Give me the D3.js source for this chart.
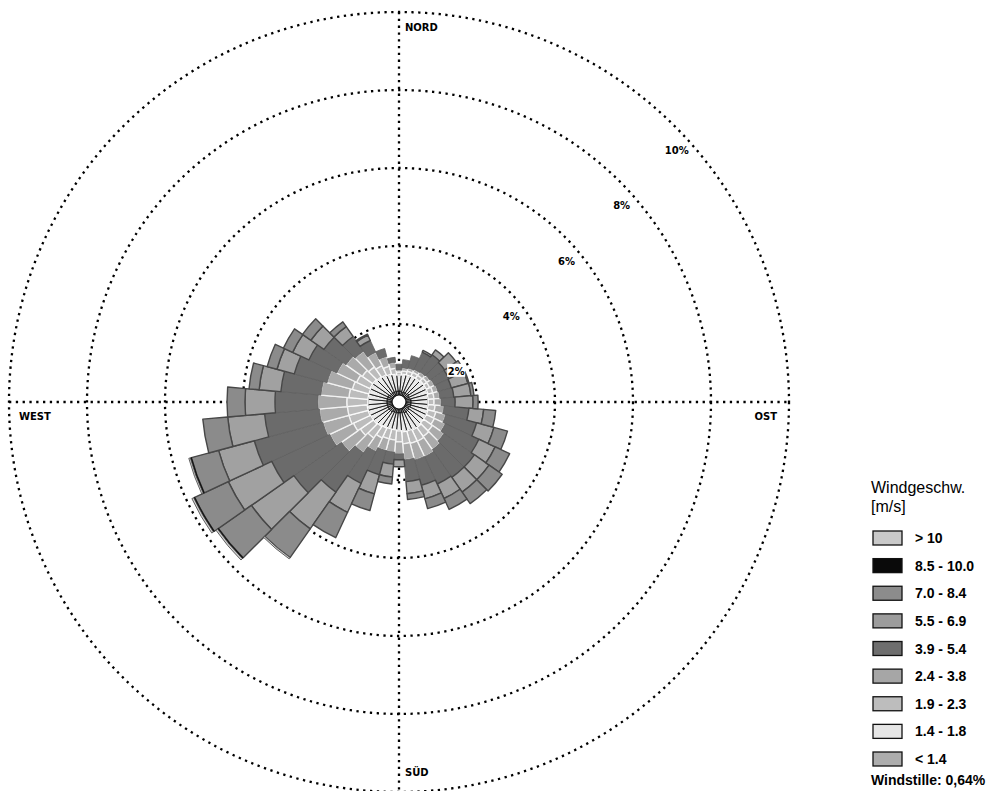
<!DOCTYPE html>
<html>
<head>
<meta charset="utf-8">
<script src="https://cdn.jsdelivr.net/npm/d3@7"></script>
<style>
  html, body { margin: 0; padding: 0; background: #fff; }
  svg { display: block; }
</style>
</head>
<body>
<svg id="chart" width="993" height="791"></svg>
<script>
// Wind directions (degrees, clockwise from north), one 10° sector each
const directions = d3.range(0, 360, 10);

// Speed classes, innermost first
const classKeys   = ["c1", "c2", "c3", "c4", "c5", "c6", "c7", "c8", "c9"];
const classLabels = ["< 1.4", "1.4 - 1.8", "1.9 - 2.3", "2.4 - 3.8", "3.9 - 5.4",
                     "5.5 - 6.9", "7.0 - 8.4", "8.5 - 10.0", "> 10"];

// Frequency (%) per direction for each speed class
const lt14    = [.28,.28,.26,.28,.28,.31,.28,.28,.31,.31,.31,.31,.28,.31,.31,.31,.28,.28,
                 .28,.28,.28,.28,.31,.31,.31,.31,.31,.31,.31,.31,.31,.28,.28,.28,.28,.28];
const s14_18  = [.41,.44,.46,.46,.46,.46,.49,.49,.44,.44,.44,.46,.49,.46,.49,.49,.49,.49,
                 .46,.44,.44,.46,.46,.49,.49,.51,.51,.49,.49,.49,.51,.54,.51,.49,.46,.44];
const s19_23  = [.08,.08,.10,.10,.10,.10,.10,.13,.15,.15,.18,.21,.23,.28,.28,.31,.33,.31,
                 .28,.26,.26,.28,.36,.41,.49,.51,.51,.54,.49,.44,.38,.33,.31,.26,.21,.15];
const s24_38  = [.05,.08,.08,.08,.10,.10,.13,.13,.15,.18,.23,.26,.31,.36,.41,.44,.44,.41,
                 .31,.31,.31,.38,.46,.59,.67,.69,.72,.74,.72,.67,.56,.51,.49,.38,.26,.15];
const s39_54  = [.15,.21,.33,.49,.54,.46,.41,.36,.36,.36,.64,.82,.95,.95,.87,.77,.67,.56,
                 .15,.31,.64,.90,1.23,1.49,1.64,1.82,1.41,1.10,1.03,.87,.79,.69,.46,.33,.21,.13];
const s55_69  = [0,0,0,.05,.15,.36,.44,.44,.44,.46,.38,.46,.46,.46,.46,.41,.36,.31,
                 .18,.33,.51,.82,1.15,1.33,1.23,.95,.95,.77,.56,.46,.46,.41,.31,.15,0,0];
const s70_84  = [0,0,0,0,0,0,0,.03,.08,.13,.31,.36,.41,.41,.36,.31,.26,.15,
                 0,.18,.44,.72,.90,1.03,.95,.72,.64,.46,.26,.26,.26,.26,.15,.03,0,0];
const s85_100 = [0,0,0,0,0,0,0,0,0,0,0,0,0,0,0,0,0,0,
                 0,0,0,0,0,.03,.03,.03,0,0,0,0,0,0,0,0,0,0];
const gt10    = [0,0,0,0,0,0,0,0,0,0,0,0,0,0,0,0,0,0,
                 0,0,0,0,.04,.05,.05,.04,0,0,0,0,0,0,0,0,0,0];

const seriesValues = [lt14, s14_18, s19_23, s24_38, s39_54, s55_69, s70_84, s85_100, gt10];

// Ring values and their labels
const ringValues = [2, 4, 6, 8, 10];
const ringLabels = ["2%", "4%", "6%", "8%", "10%"];
const cardinalLabels = ["NORD", "OST", "SÜD", "WEST"];
const legendTitle = ["Windgeschw.", "[m/s]"];
const calmText = "Windstille: 0,64%";

// Fill / outline per speed class (same order as classKeys)
const classFill   = ["#ababab", "#ebebeb", "#bcbcbc", "#aaaaaa", "#6b6b6b",
                     "#a1a1a1", "#8b8b8b", "#0d0d0d", "#cecece"];
const classStroke = ["#111", "#111", "#fafafa", "#f2f2f2", "#606060",
                     "#474747", "#474747", "#0d0d0d", "#404040"];
const classStrokeW = [0.9, 0.9, 1.3, 1.3, 0.8, 1.4, 1.4, 0.6, 0.8];
const legendFill  = ["#adadad", "#e6e6e6", "#bdbdbd", "#a6a6a6", "#6e6e6e",
                     "#9c9c9c", "#8c8c8c", "#0a0a0a", "#c9c9c9"];

// Table for d3.stack
const rows = directions.map((dir, i) => {
  const row = { dir };
  classKeys.forEach((k, j) => { row[k] = seriesValues[j][i]; });
  return row;
});

const svg = d3.select("#chart");
const cx = 399, cy = 402;
const r = d3.scaleLinear().domain([0, 10]).range([0, 390]);
const deg = Math.PI / 180;

const g = svg.append("g").attr("transform", `translate(${cx},${cy})`);

// Dotted percentage rings
const dotted = sel => sel
  .attr("stroke", "#000")
  .attr("stroke-width", 2.3)
  .attr("stroke-dasharray", "2.3 4.5");

g.selectAll("circle.ring").data(ringValues).join("circle")
  .attr("class", "ring")
  .attr("r", d => r(d))
  .attr("fill", "none")
  .call(dotted);

// Dotted N-S and W-E axes
const rMax = r(10);
g.append("line").attr("x1", 0).attr("y1", -rMax).attr("x2", 0).attr("y2", rMax).call(dotted);
g.append("line").attr("x1", -rMax).attr("y1", 0).attr("x2", rMax).attr("y2", 0).call(dotted);

// Stacked sectors
const stacked = d3.stack().keys(classKeys)(rows);
const arc = d3.arc()
  .innerRadius(d => r(d[0]))
  .outerRadius(d => r(d[1]))
  .startAngle(d => (d.data.dir - 5) * deg)
  .endAngle(d => (d.data.dir + 5) * deg);

stacked.forEach((layer, j) => {
  g.append("g").selectAll("path")
    .data(layer.filter(d => d[1] - d[0] > 0))
    .join("path")
    .attr("d", arc)
    .attr("fill", classFill[j])
    .attr("stroke", classStroke[j])
    .attr("stroke-width", classStrokeW[j])
    .attr("stroke-linejoin", "round");
});

// Calm centre
g.append("circle").attr("r", 7).attr("fill", "#fff").attr("stroke", "#111").attr("stroke-width", 1.2);

// Ring labels along the NE diagonal
const ringLab = g.selectAll("g.rlab").data(ringValues).join("g")
  .attr("class", "rlab")
  .attr("transform", d => `translate(${r(d) * Math.sin(45 * deg) + 2},${-r(d) * Math.cos(45 * deg) + 25})`);
ringLab.append("rect")
  .attr("x", (d, i) => i === 4 ? -12 : -9).attr("y", -8)
  .attr("width", (d, i) => i === 4 ? 24 : 18).attr("height", 13)
  .attr("fill", "#fff");
ringLab.append("text")
  .attr("text-anchor", "middle")
  .attr("y", 3)
  .attr("font-family", "DejaVu Sans, sans-serif")
  .attr("font-weight", "bold")
  .attr("font-size", 10)
  .attr("fill", "#000")
  .text((d, i) => ringLabels[i]);

// Cardinal labels
const cardPos = [
  { t: cardinalLabels[0], x: 6, y: -rMax + 19, a: "start" },
  { t: cardinalLabels[1], x: rMax - 12, y: 18, a: "end" },
  { t: cardinalLabels[2], x: 6, y: rMax - 16, a: "start" },
  { t: cardinalLabels[3], x: -rMax + 10, y: 18, a: "start" }
];
g.selectAll("text.card").data(cardPos).join("text")
  .attr("class", "card")
  .attr("x", d => d.x).attr("y", d => d.y)
  .attr("text-anchor", d => d.a)
  .attr("font-family", "DejaVu Sans, sans-serif")
  .attr("font-weight", "bold")
  .attr("font-size", 10)
  .attr("fill", "#000")
  .text(d => d.t);

// Legend
const lg = svg.append("g").attr("transform", "translate(872,0)");
lg.selectAll("text.title").data(legendTitle).join("text")
  .attr("class", "title")
  .attr("x", -1).attr("y", (d, i) => 493 + i * 19)
  .attr("font-family", "Liberation Sans, Arial, sans-serif")
  .attr("font-size", 16)
  .attr("fill", "#000")
  .text(d => d);

const legendOrder = d3.range(classKeys.length).reverse();
const rowY = d3.scaleLinear().domain([0, 8]).range([538, 759]);
const item = lg.selectAll("g.item").data(legendOrder).join("g")
  .attr("class", "item")
  .attr("transform", (d, i) => `translate(0,${rowY(i)})`);
item.append("rect")
  .attr("x", 1).attr("y", -7).attr("width", 29).attr("height", 14)
  .attr("fill", d => legendFill[d])
  .attr("stroke", "#111").attr("stroke-width", 1.3);
item.append("text")
  .attr("x", 43).attr("y", 5)
  .attr("font-family", "Liberation Sans, Arial, sans-serif")
  .attr("font-weight", "bold")
  .attr("font-size", 14)
  .attr("fill", "#000")
  .text(d => classLabels[d]);

lg.append("text")
  .attr("x", -1).attr("y", 785)
  .attr("font-family", "Liberation Sans, Arial, sans-serif")
  .attr("font-weight", "bold")
  .attr("font-size", 14)
  .attr("fill", "#000")
  .text(calmText);
</script>
</body>
</html>
